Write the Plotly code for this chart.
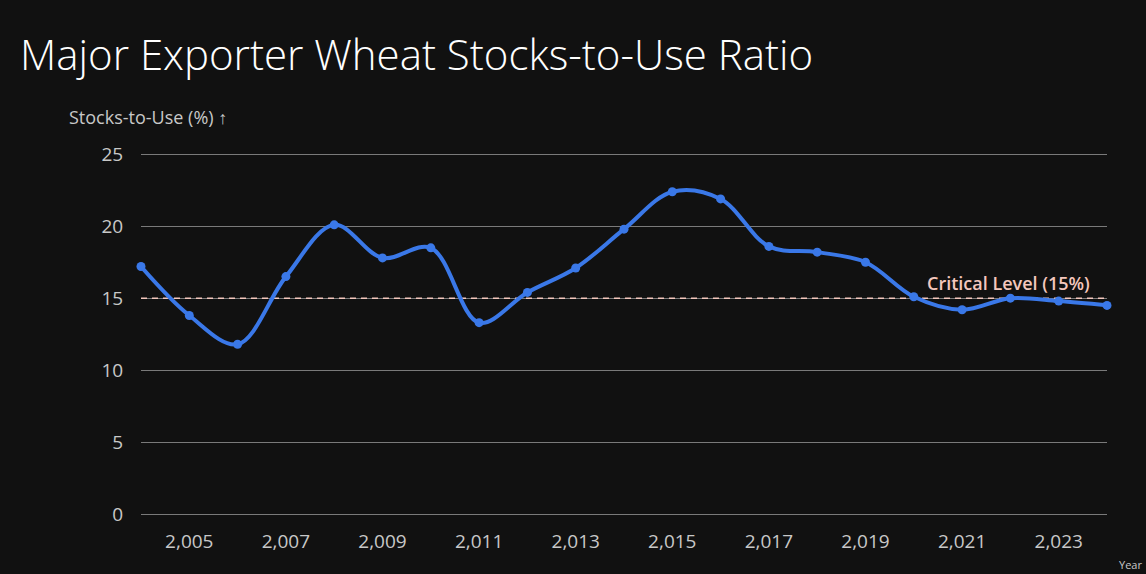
import plotly.graph_objects as go

# Stocks-to-use ratio (%) for major wheat exporters
years = list(range(2004, 2025))
stocks_to_use = [17.2, 13.8, 11.8, 16.5, 20.1, 17.8, 18.5, 13.3, 15.4, 17.1,
                 19.8, 22.4, 21.9, 18.6, 18.2, 17.5, 15.1, 14.2, 15.0, 14.8, 14.5]
critical_level = 15
tick_years = list(range(2005, 2024, 2))
y_ticks = [0, 5, 10, 15, 20, 25]

W, H = 1146, 574
ml, mr, mt, mb = 141, 39, 150, 60
bg = "#111111"
blue = "#3a78e8"
pink = "#f4c7bd"
font = "Open Sans"
grey_txt = "#c8c8c8"

fig = go.Figure()

# critical level reference line (under the data line)
fig.add_trace(go.Scatter(
    x=[years[0], years[-1]], y=[critical_level, critical_level],
    mode="lines",
    line=dict(color=pink, width=1.5, dash="6px,5px"),
    showlegend=False,
    hoverinfo="skip",
))

fig.add_trace(go.Scatter(
    x=years, y=stocks_to_use,
    mode="lines+markers",
    line=dict(color=blue, width=4, shape="spline", smoothing=1),
    marker=dict(color=blue, size=9),
    cliponaxis=False,
    showlegend=False,
    hoverinfo="x+y",
))

fig.add_annotation(
    x=2023.68, y=critical_level, xref="x", yref="y",
    text="Critical Level (15%)", showarrow=False,
    xanchor="right", yanchor="bottom", yshift=1,
    font=dict(family=font, size=18, color=pink, weight=600),
)


def px_x(p):
    return (p - ml) / (W - ml - mr)


def px_y(p):
    return (H - mb - p) / (H - mt - mb)


fig.add_annotation(
    x=px_x(67), y=px_y(117), xref="paper", yref="paper",
    text="Stocks-to-Use (%) ↑", showarrow=False,
    xanchor="left", yanchor="middle",
    font=dict(family=font, size=18, color=grey_txt),
)

# x axis title, sits in the bottom right corner
fig.add_annotation(
    x=px_x(1144), y=px_y(574), xref="paper", yref="paper",
    text="Year", showarrow=False,
    xanchor="right", yanchor="bottom",
    font=dict(family=font, size=11, color=grey_txt),
)

fig.update_layout(
    width=W, height=H,
    paper_bgcolor=bg, plot_bgcolor=bg,
    margin=dict(l=ml, r=mr, t=mt, b=mb),
    title=dict(
        text="Major Exporter Wheat Stocks-to-Use Ratio",
        x=20 / W, xanchor="left", y=1 - 55 / H, yanchor="middle",
        font=dict(family=font, size=42, color="#ffffff", weight=300),
    ),
    font=dict(family=font, color=grey_txt),
    xaxis=dict(
        range=[2004, 2024],
        tickvals=tick_years,
        ticktext=[f"{y:,}" for y in tick_years],
        showgrid=False, zeroline=False, showline=False,
        tickfont=dict(size=19, color=grey_txt),
        ticks="outside", ticklen=10, tickcolor=bg,
    ),
    yaxis=dict(
        range=[0, 25.3],
        tickvals=y_ticks,
        showgrid=True, gridcolor="#7a7a7a", gridwidth=1.2,
        zeroline=True, zerolinecolor="#7a7a7a", zerolinewidth=1.2,
        showline=False,
        tickfont=dict(size=19, color=grey_txt),
        ticks="outside", ticklen=13, tickcolor=bg,
    ),
)

fig.write_html(
    "out.html",
    config={"displayModeBar": False},
    post_script="document.body.style.margin='0';"
                "document.body.style.background='#111111';",
)
